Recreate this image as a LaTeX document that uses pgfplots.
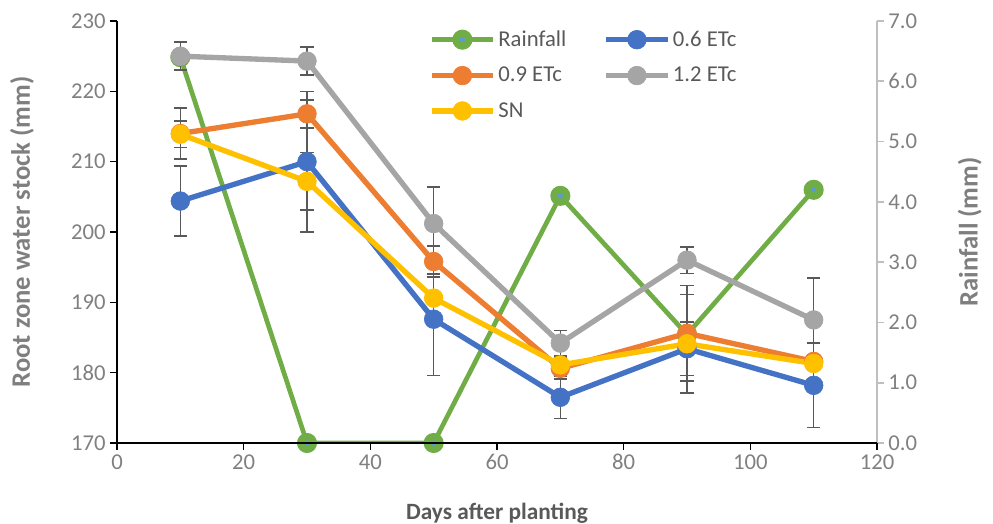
\documentclass[border=0pt]{standalone}
\usepackage{fontspec}
\setmainfont{Carlito}
\usepackage{pgfplots}
\pgfplotsset{compat=1.18}
\definecolor{cgreen}{HTML}{70AD47}
\definecolor{cblue}{HTML}{4472C4}
\definecolor{corange}{HTML}{ED7D31}
\definecolor{cgray}{HTML}{A5A5A5}
\definecolor{cyellow}{HTML}{FFC000}
\definecolor{cerr}{HTML}{595959}
\definecolor{ctick}{HTML}{808080}
\definecolor{clab}{HTML}{7F7F7F}
\definecolor{crax}{HTML}{BFBFBF}
\definecolor{cdot}{HTML}{5B9BD5}
\begin{document}
\begin{tikzpicture}
\useasboundingbox (-87.75pt,-60.75pt) rectangle (657pt,332.25pt);
% Right axis: rainfall
\begin{axis}[
  at={(0,0)}, anchor=south west, scale only axis,
  width=570pt, height=316.5pt,
  xmin=0, xmax=120, ymin=0, ymax=7,
  axis x line=none, axis y line*=right,
  ytick={0,1,...,7},
  y axis line style={-, crax, line width=1.5pt},
  ytick style={crax, line width=1.2pt},
  tick align=outside, major tick length=5pt,
  yticklabel style={font=\fontsize{17}{20}\selectfont, text=ctick,
     /pgf/number format/.cd, fixed, fixed zerofill, precision=1, assume math mode=true},
  ylabel={\bfseries Rainfall (mm)},
  ylabel style={font=\fontsize{20}{24}\selectfont, text=clab,
     at={(axis description cs:1.122,0.5)}, anchor=center, rotate=0},
]
\addplot[cgreen, line width=3.5pt, mark=*, mark size=4.75pt,
  mark options={draw=cgreen, fill=cdot, line width=5.5pt}]
  coordinates {(10,6.4) (30,0) (50,0) (70,4.1) (90,1.8) (110,4.2)};
\end{axis}
% Left axis: root zone water stock
\begin{axis}[
  at={(0,0)}, anchor=south west, scale only axis,
  width=570pt, height=316.5pt,
  xmin=0, xmax=120, ymin=170, ymax=230,
  axis x line*=bottom, axis y line*=left,
  xtick={0,20,...,120}, ytick={170,180,...,230},
  axis line style={-, black, line width=1.5pt},
  tick style={black, line width=1.2pt},
  tick align=outside, major tick length=5pt,
  ticklabel style={font=\fontsize{17}{20}\selectfont, text=ctick,
     /pgf/number format/assume math mode=true},
  xlabel={\bfseries Days after planting},
  xlabel style={font=\fontsize{17.5}{21}\selectfont, text=cerr,
     at={(axis description cs:0.5,-0.166)}, anchor=center},
  ylabel={\bfseries Root zone water stock (mm)},
  ylabel style={font=\fontsize{20}{24}\selectfont, text=clab,
     at={(axis description cs:-0.125,0.5)}, anchor=center},
  legend columns=2,
  legend cell align=left,
  legend style={at={(axis description cs:0.405,0.99)}, anchor=north west,
     draw=none, fill=none, font=\fontsize{17}{20}\selectfont, text=cerr,
     /tikz/every even column/.append style={column sep=26pt},
     row sep=10pt},
  legend image code/.code={%
     \draw[#1, mark repeat=2, mark phase=2] plot coordinates {(0pt,0pt) (23pt,0pt) (46pt,0pt)};},
  error bars/error bar style={cerr, line width=1.2pt},
  error bars/error mark options={rotate=90, cerr, mark size=5pt, line width=1.2pt},
]
\addlegendimage{cgreen, line width=3.5pt, mark=*, mark size=4.75pt,
  mark options={draw=cgreen, fill=cdot, line width=5.5pt}}
\addlegendentry{Rainfall}
\addplot[cblue, line width=4pt, mark=*, mark size=7pt,
  mark options={fill=cblue, draw=cblue, line width=0.5pt},
  error bars/.cd, y dir=both, y explicit]
  coordinates {(10,204.4) +- (0,5.0) (30,210.0) +- (0,10.0) (50,187.6) +- (0,8.0)
               (70,176.5) +- (0,3.0) (90,183.4) +- (0,3.8) (110,178.2) +- (0,6.0)};
\addlegendentry{0.6 ETc}
\addplot[corange, line width=4pt, mark=*, mark size=7pt,
  mark options={fill=corange, draw=corange, line width=0.5pt},
  error bars/.cd, y dir=both, y explicit]
  coordinates {(10,214.0) +- (0,3.6) (30,216.8) +- (0,2.0) (50,195.8) +- (0,2.2)
               (70,180.6) +- (0,1.5) (90,185.6) +- (0,6.8) (110,181.6) +- (0,1.0)};
\addlegendentry{0.9 ETc}
\addplot[cgray, line width=4pt, mark=*, mark size=7pt,
  mark options={fill=cgray, draw=cgray, line width=0.5pt},
  error bars/.cd, y dir=both, y explicit]
  coordinates {(10,225.0) +- (0,2.0) (30,224.3) +- (0,2.0) (50,201.2) +- (0,5.2)
               (70,184.2) +- (0,1.8) (90,196.0) +- (0,1.9) (110,187.5) +- (0,6.0)};
\addlegendentry{1.2 ETc}
\addplot[cyellow, line width=4pt, mark=*, mark size=7pt,
  mark options={fill=cyellow, draw=cyellow, line width=0.5pt},
  error bars/.cd, y dir=both, y explicit]
  coordinates {(10,213.9) +- (0,1.9) (30,207.2) +- (0,4.1) (50,190.6) +- (0,3.4)
               (70,181.1) +- (0,1.0) (90,184.1) +- (0,7.0) (110,181.3) +- (0,1.0)};
\addlegendentry{SN}
\end{axis}
\end{tikzpicture}
\end{document}
